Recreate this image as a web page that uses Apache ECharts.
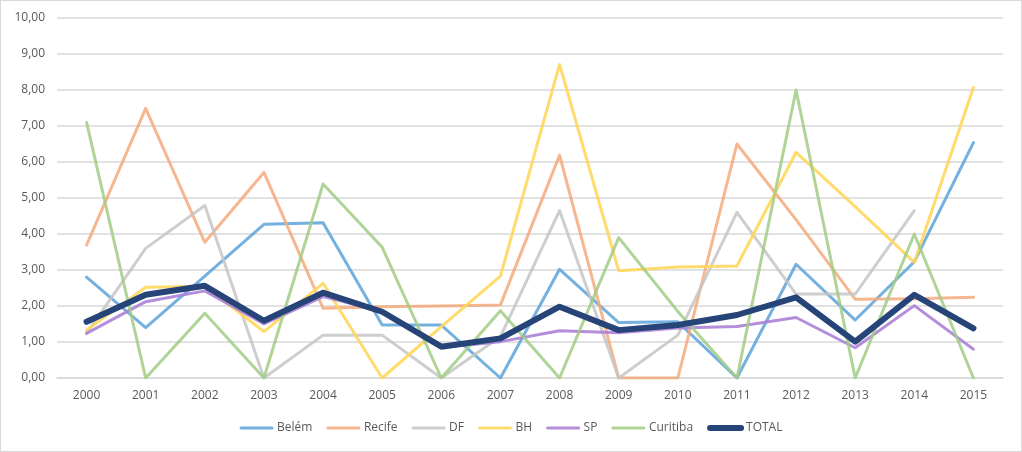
<!DOCTYPE html>
<html>
<head>
<meta charset="utf-8">
<script src="https://cdn.jsdelivr.net/npm/echarts@6/dist/echarts.min.js"></script>
<style>
html,body{margin:0;padding:0;background:#fff;}
#c{width:1020px;height:450px;border:1px solid #d9d9d9;}
</style>
</head>
<body>
<div id="c"></div>
<script>
const years = ['2000','2001','2002','2003','2004','2005','2006','2007','2008','2009','2010','2011','2012','2013','2014','2015'];
const belem    = [2.80,1.40,2.83,4.27,4.31,1.47,1.47,0.00,3.02,1.54,1.56,0.00,3.16,1.61,3.23,6.54];
const recife   = [3.69,7.49,3.77,5.71,1.94,1.98,2.00,2.03,6.19,0.00,0.00,6.50,4.40,2.19,2.20,2.24];
const df       = [1.24,3.60,4.79,0.00,1.19,1.19,0.00,1.15,4.65,0.00,1.19,4.60,2.33,2.33,4.65,null];
const bh       = [1.33,2.52,2.55,1.29,2.63,0.00,1.43,2.83,8.71,2.98,3.08,3.11,6.27,4.76,3.21,8.07];
const sp       = [1.24,2.12,2.42,1.50,2.26,1.85,0.85,1.01,1.31,1.26,1.39,1.43,1.68,0.84,2.01,0.80];
const curitiba = [7.10,0.00,1.80,0.00,5.39,3.63,0.00,1.87,0.00,3.90,1.85,0.00,8.00,0.00,4.00,0.00];
const total    = [1.56,2.31,2.56,1.59,2.37,1.84,0.87,1.10,1.98,1.33,1.47,1.75,2.24,1.01,2.31,1.38];

const seriesDefs = [
  ['Belém', belem, '#65A8DC', 3, 0.9],
  ['Recife', recife, '#F4AA7C', 3, 0.85],
  ['DF', df, '#C6C6C6', 3, 0.85],
  ['BH', bh, '#FFD75C', 3, 0.9],
  ['SP', sp, '#AC82D6', 3, 0.9],
  ['Curitiba', curitiba, '#A2CC86', 3, 0.85],
  ['TOTAL', total, '#264478', 6, 1]
];

const chart = echarts.init(document.getElementById('c'));
chart.setOption({
  animation: false,
  textStyle: {fontFamily: 'Open Sans'},
  grid: {left: 56, right: 18, top: 17, bottom: 73, containLabel: false},
  legend: {
    bottom: 12, left: 'center', itemWidth: 31, itemHeight: 8, itemGap: 14,
    itemStyle: {opacity: 0, borderWidth: 0},
    lineStyle: {width: 'inherit'},
    textStyle: {color: '#595959', fontSize: 12, fontFamily: 'Open Sans'},
    data: seriesDefs.map(d => d[0])
  },
  xAxis: {
    type: 'category', data: years, boundaryGap: true,
    axisLine: {show: true, lineStyle: {color: '#d9d9d9', width: 1.5}},
    axisTick: {show: false},
    axisLabel: {color: '#595959', fontSize: 12, margin: 12}
  },
  yAxis: {
    type: 'value', min: 0, max: 10, interval: 1,
    axisLine: {show: false}, axisTick: {show: false},
    splitLine: {lineStyle: {color: '#d9d9d9', width: 1.5}},
    axisLabel: {color: '#595959', fontSize: 12, margin: 12,
      formatter: v => v.toFixed(2).replace('.', ',')}
  },
  series: seriesDefs.map(d => ({
    name: d[0], type: 'line', data: d[1], symbol: 'none',
    lineStyle: {color: d[2], width: d[3], opacity: d[4], cap: 'round', join: 'round'},
    itemStyle: {color: d[2]},
    z: d[0] === 'TOTAL' ? 10 : 2
  }))
});
</script>
</body>
</html>
